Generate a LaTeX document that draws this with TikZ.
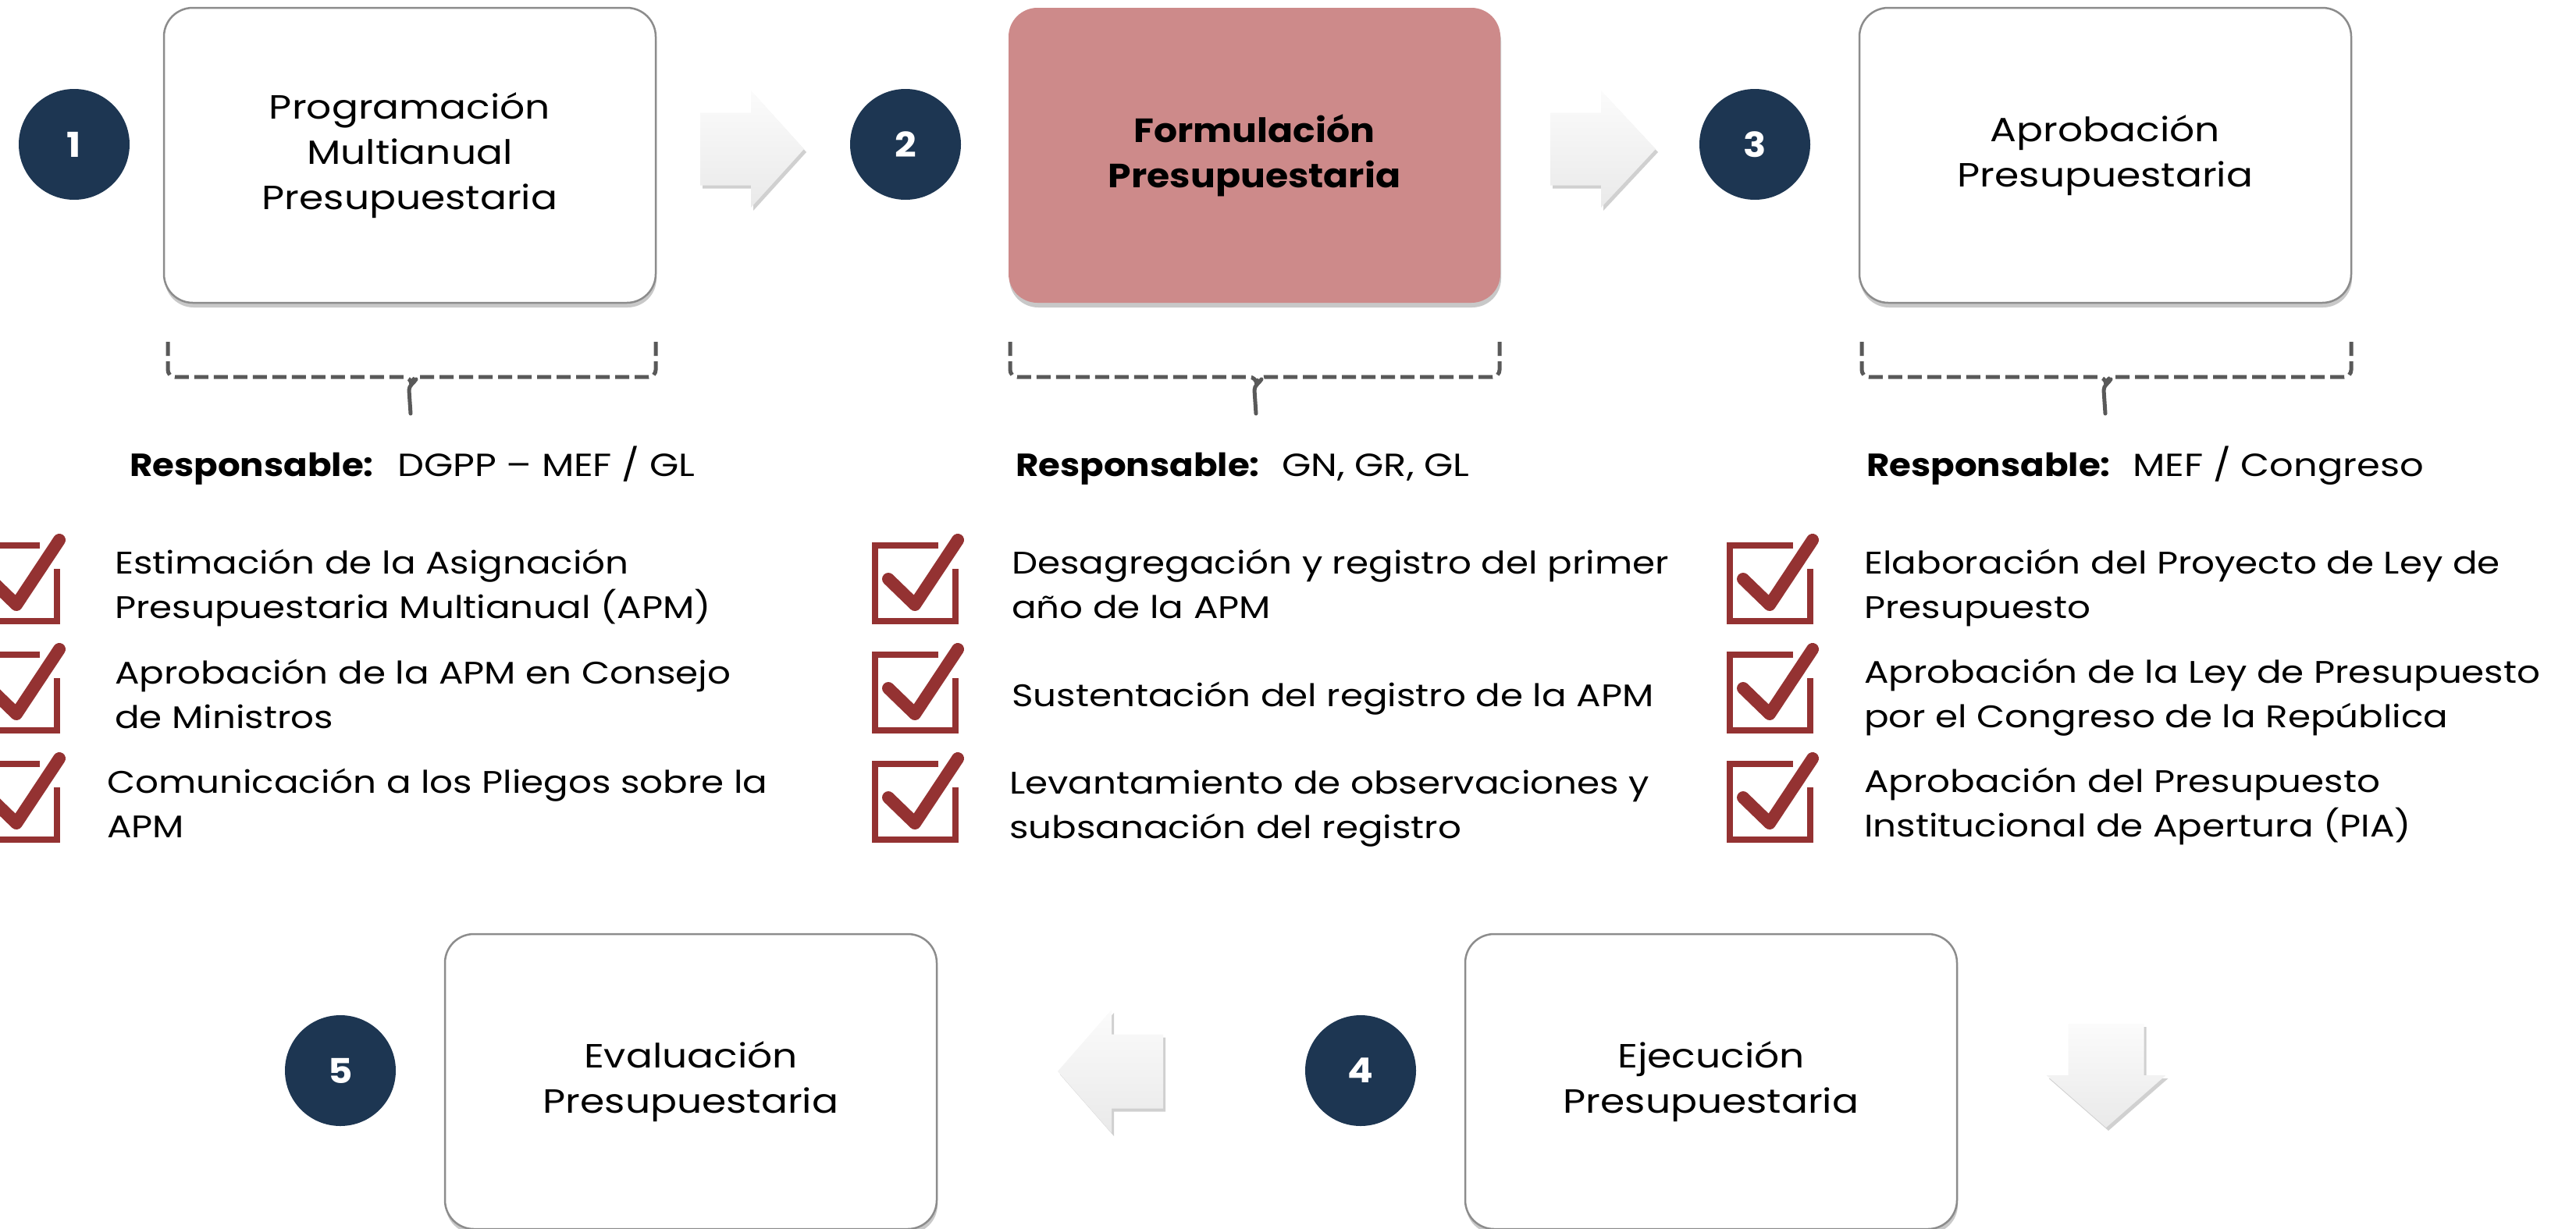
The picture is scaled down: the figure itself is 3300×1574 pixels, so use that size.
\documentclass[tikz,border=0pt]{standalone}
\usepackage{fontspec}
\setmainfont{Poppins}[FakeStretch=1.17, BoldFeatures={FakeStretch=1.1}]
\usetikzlibrary{shadows}
\definecolor{navy}{RGB}{29,54,82}
\definecolor{rosebox}{RGB}{205,138,138}
\definecolor{chkred}{RGB}{148,50,50}
\definecolor{brkgray}{RGB}{89,89,89}
\definecolor{boxline}{RGB}{140,140,140}
\newcommand\stagefnt{\fontsize{43}{58}\selectfont}
\newcommand\itemfnt{\fontsize{40}{57.5}\selectfont}
\newcommand\respfnt{\fontsize{41}{57.5}\selectfont}
\newcommand\numfnt{\fontsize{44}{50}\selectfont\bfseries}
\newcommand\twolines[1]{\begin{tabular}[t]{@{}l@{}}#1\end{tabular}}
\tikzset{
  chkicon/.pic={
    \draw[chkred, line width=8pt, line join=miter, line cap=butt]
      (85,4) -- (4,4) -- (4,101) -- (107,101) -- (107,34);
    \draw[chkred, line width=16pt, line cap=round, line join=round]
      (21,47) -- (55,80) -- (110,-3);
  }
}
\begin{document}
\begin{tikzpicture}[x=1pt,y=-1pt,
  stage/.style={draw=boxline, line width=2.5pt, fill=white, rounded corners=37pt,
    minimum width=630pt, minimum height=378pt, align=center, inner sep=0pt,
    font=\stagefnt,
    drop shadow={shadow xshift=1pt, shadow yshift=-6pt, opacity=0.3, fill=black!70}},
  hotstage/.style={stage, draw=none, fill=rosebox, font=\stagefnt\bfseries},
  num/.style={circle, fill=navy, minimum size=142pt, inner sep=0pt, text=white, font=\numfnt},
  item/.style={anchor=base west, inner sep=0pt, font=\itemfnt},
  resp/.style={anchor=base west, inner sep=0pt, font=\respfnt\bfseries},
  respv/.style={anchor=base west, inner sep=0pt, font=\respfnt},
  blockarrow/.style={draw=none, top color=gray!3, bottom color=gray!17,
    drop shadow={shadow xshift=3pt, shadow yshift=-4pt, opacity=0.3, fill=black!60}},
  brk/.style={draw=brkgray, line width=5pt, dash pattern=on 18pt off 7pt},
  stem/.style={draw=brkgray, line width=5pt, line cap=round},
]
\useasboundingbox (0,0) rectangle (3300,1574);
\fill[white] (0,0) rectangle (3300,1574);

% top row
\node[num] (n1) at (95,185) {1};
\node[stage] (b1) at (525,199) {Programación\\Multianual\\Presupuestaria};
\node[num] (n2) at (1160,185) {2};
\node[hotstage] (b2) at (1607,199) {Formulación\\Presupuestaria};
\node[num] (n3) at (2248,185) {3};
\node[stage] (b3) at (2697,199) {Aprobación\\Presupuestaria};

% bottom row
\node[num] (n5) at (436,1372) {5};
\node[stage] (b5) at (885,1386) {Evaluación\\Presupuestaria};
\node[num] (n4) at (1743,1372) {4};
\node[stage] (b4) at (2192,1386) {Ejecución\\Presupuestaria};

% block arrows
\begin{scope}[shift={(897,191)}]
  \path[blockarrow] (0,-46.5) -- (65,-46.5) -- (65,-75) -- (133,0) -- (65,75) -- (65,46.5) -- (0,46.5) -- cycle;
\end{scope}
\begin{scope}[shift={(1986,191)}]
  \path[blockarrow] (0,-46.5) -- (65,-46.5) -- (65,-75) -- (135,0) -- (65,75) -- (65,46.5) -- (0,46.5) -- cycle;
\end{scope}
\begin{scope}[shift={(1490,1373)}]
  \path[blockarrow] (0,-47.5) -- (-66,-47.5) -- (-66,-79) -- (-135,0) -- (-66,79) -- (-66,47.5) -- (0,47.5) -- cycle;
\end{scope}
\begin{scope}[shift={(2698,1312)}]
  \path[blockarrow] (-48.5,0) -- (48.5,0) -- (48.5,66) -- (76.5,66) -- (0,133) -- (-76.5,66) -- (-48.5,66) -- cycle;
\end{scope}

% brackets
\foreach \L/\C/\R in {215/527/840, 1294/1610/1921, 2385/2698/3012}{
  \draw[brk] (\L,438) -- (\L,474) to[out=-90,in=180] (\L+9,483) -- (\C-10,483) to[out=0,in=90] (\C,493);
  \draw[brk] (\R,438) -- (\R,474) to[out=-90,in=0] (\R-9,483) -- (\C+10,483) to[out=180,in=90] (\C,493);
  \draw[stem] (\C+6,486) to[out=-120,in=90] (\C-3,500) -- (\C-1,530);
}

% responsables
\node[resp] (r1) at (166,610) {Responsable:};
\node[respv] (v1) at (509,610) {DGPP – MEF / GL};
\node[resp] (r2) at (1301,610) {Responsable:};
\node[respv] (v2) at (1642,610) {GN, GR, GL};
\node[resp] (r3) at (2391,610) {Responsable:};
\node[respv] (v3) at (2732,610) {MEF / Congreso};

% check icons
\foreach \X in {-34,1117,2212}{
  \foreach \Y in {695,835,975}{
    \pic at (\X,\Y) {chkicon};
  }
}

% items column 1
\node[item] (i11) at (147,735) {\twolines{Estimación de la Asignación\\Presupuestaria Multianual (APM)}};
\node[item] (i12) at (147,876) {\twolines{Aprobación de la APM en Consejo\\de Ministros}};
\node[item] (i13) at (137,1016) {\twolines{Comunicación a los Pliegos sobre la\\APM}};
% items column 2
\node[item] (i21) at (1296,735) {\twolines{Desagregación y registro del primer\\año de la APM}};
\node[item] (i22) at (1296,905) {Sustentación del registro de la APM};
\node[item] (i23) at (1293,1017) {\twolines{Levantamiento de observaciones y\\subsanación del registro}};
% items column 3
\node[item] (i31) at (2388,735) {\twolines{Elaboración del Proyecto de Ley de\\Presupuesto}};
\node[item] (i32) at (2388,875) {\twolines{Aprobación de la Ley de Presupuesto\\por el Congreso de la República}};
\node[item] (i33) at (2388,1015) {\twolines{Aprobación del Presupuesto\\Institucional de Apertura (PIA)}};
\end{tikzpicture}
\end{document}
